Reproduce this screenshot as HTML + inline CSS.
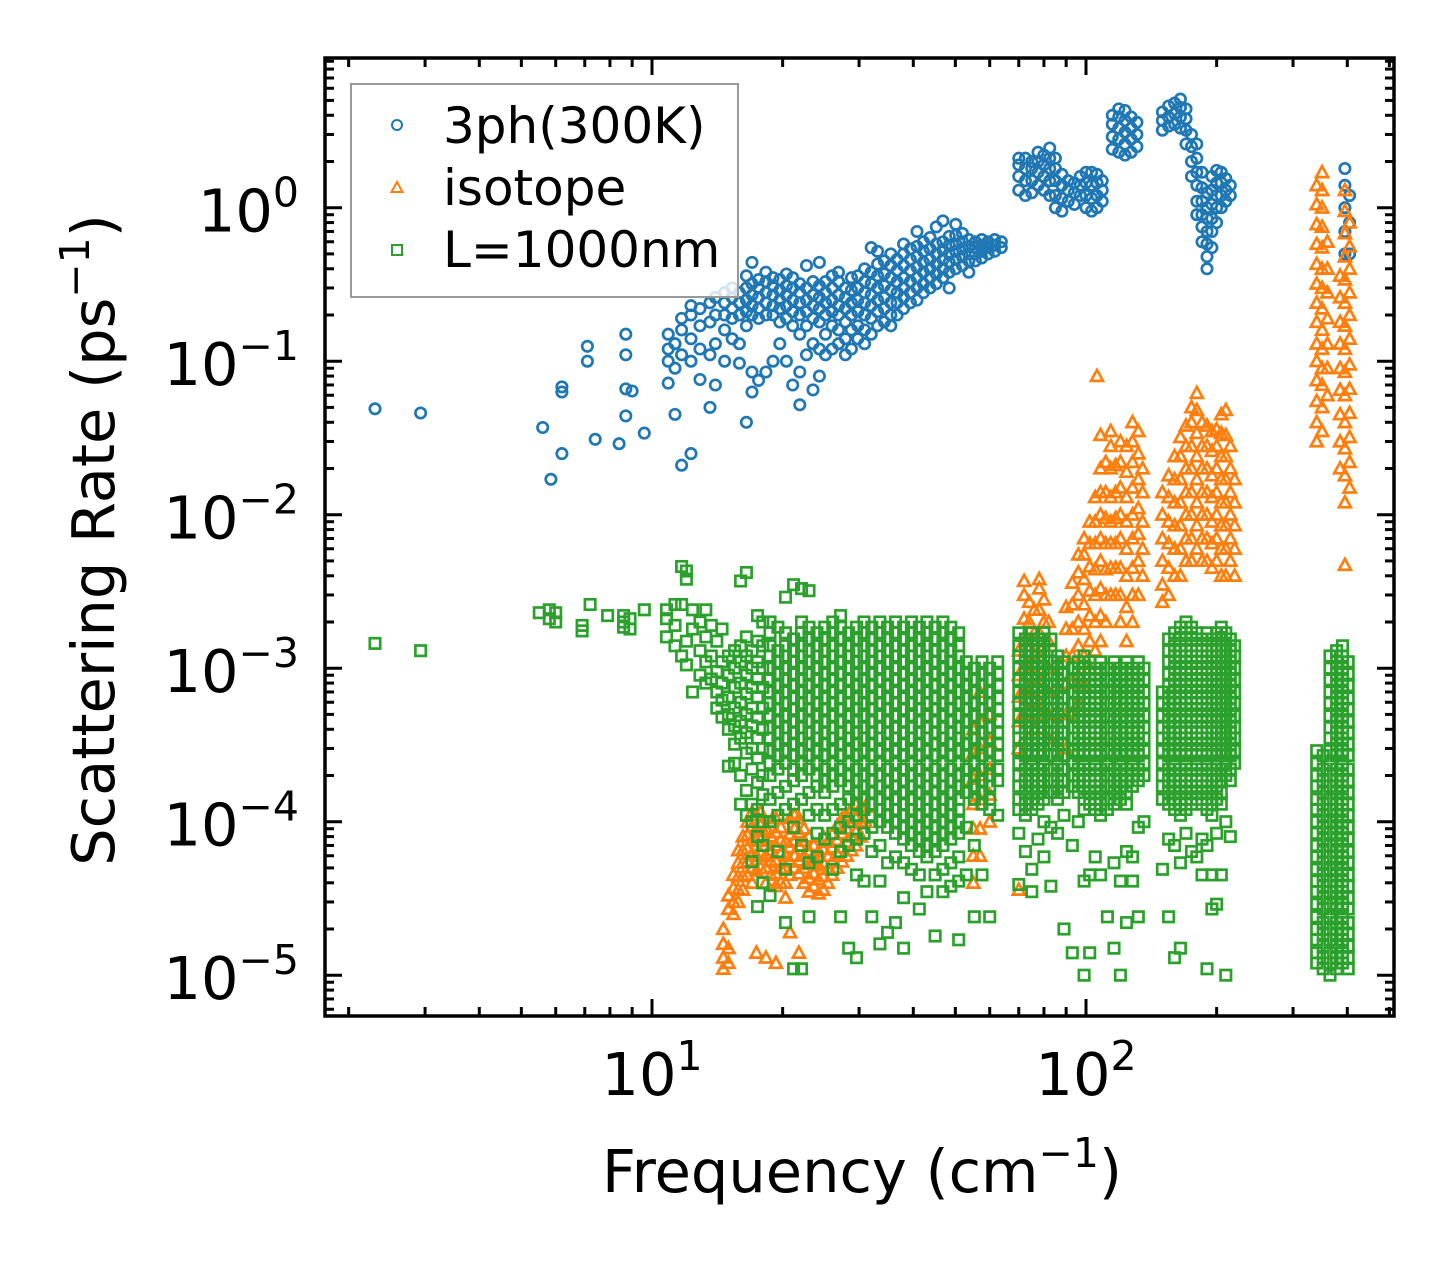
<!DOCTYPE html>
<html>
<head>
<meta charset="utf-8">
<style>
  html,body{margin:0;padding:0;background:#fff;}
  svg{display:block;}
  text{font-family:"DejaVu Sans","Liberation Sans",sans-serif;fill:#000;}
</style>
</head>
<body>
<svg id="chart" width="1455" height="1265" viewBox="0 0 1455 1265" xmlns="http://www.w3.org/2000/svg">
  <rect x="0" y="0" width="1455" height="1265" fill="#fff"/>
  <g id="marks"></g>
  <g id="axes"></g>
  <text x="862" y="1192" font-size="59" text-anchor="middle">Frequency (cm<tspan font-size="41" dy="-25">−1</tspan><tspan dy="25">)</tspan></text>
  <text transform="translate(114,540) rotate(-90)" font-size="59" text-anchor="middle">Scattering Rate (ps<tspan font-size="41" dy="-25">−1</tspan><tspan dy="25">)</tspan></text>
  <g id="legend">
    <rect x="351" y="84" width="387" height="213" fill="#fff" fill-opacity="0.8" stroke="#999" stroke-width="2"/>
    <circle cx="397" cy="125" r="5" fill="none" stroke="#1f77b4" stroke-width="2"/>
    <text x="443" y="143" font-size="50">3ph(300K)</text>
    <polygon points="397,182 402.5,192 391.5,192" fill="none" stroke="#ff7f0e" stroke-width="2"/>
    <text x="443" y="205" font-size="50">isotope</text>
    <rect x="392" y="245" width="10" height="10" fill="none" stroke="#2ca02c" stroke-width="2"/>
    <text x="443" y="267" font-size="50">L=1000nm</text>
  </g>
</svg>
<script>
// ---------- data (frequency in cm^-1, rates in ps^-1) ----------
const xTickValues = [10, 100];
const xTickLabels = ["1", "2"];
const yTickValues = [1, 0.1, 0.01, 0.001, 0.0001, 0.00001];
const yTickLabels = ["0", "−1", "−2", "−3", "−4", "−5"];

const blueFreq = [2.3,2.93,5.6,5.85,6.2,7.1,7.4,8.4,8.7,9.0,9.6,10.9,11.3,11.7,12.3,12.9,13.6,14.0,14.7,15.3,15.9,16.5,17.0,17.6,18.3,19.0,19.7,20.4,21.1,21.9,22.7,23.5,24.3,25.1,26.0,26.9,27.9,28.8,29.8,30.9,32.0,33.1,34.3,35.5,36.7,38.0,39.4,40.8,42.2,43.7,45.2,46.8,48.4,50.1,51.9,53.7,55.6,57.5,59.5,61.6,63.8,70,72.5,75,77.5,80,82.5,85,88,91,94,97,100,103,106,109,115,119,123,127,131,150,155,160,165,170,175,180,185,190,195,200,205,210,215,395,405];
const blueRates = [
[0.049],[0.046],[0.037],[0.017],[0.025,0.063,0.068],[0.125,0.1],[0.031],[0.029],[0.066,0.15,0.11,0.044],[0.064],[0.034],
[0.072,0.1,0.12,0.15],[0.045,0.09,0.13],[0.021,0.11,0.16,0.19],[0.025,0.1,0.14,0.2,0.23],[0.076,0.12,0.17,0.22],[0.05,0.11,0.18,0.24],
[0.07,0.13,0.2,0.26],[0.1,0.16,0.2,0.24,0.28],[0.14,0.19,0.22,0.26,0.3],[0.097,0.13,0.2,0.24,0.28],[0.04,0.17,0.21,0.25,0.3,0.36],
[0.063,0.085,0.2,0.23,0.27,0.32,0.44],[0.075,0.19,0.22,0.26,0.3,0.34],[0.085,0.2,0.24,0.28,0.33,0.38],[0.1,0.2,0.23,0.27,0.31,0.35],
[0.13,0.18,0.22,0.25,0.29,0.34],[0.1,0.19,0.23,0.27,0.31,0.37],[0.07,0.17,0.21,0.25,0.3,0.35],[0.052,0.085,0.15,0.2,0.24,0.28,0.32],
[0.11,0.17,0.21,0.25,0.3,0.42],[0.065,0.13,0.19,0.23,0.27,0.33],[0.08,0.12,0.18,0.22,0.26,0.31,0.44],[0.11,0.15,0.2,0.24,0.28,0.33],
[0.12,0.17,0.21,0.25,0.3,0.36],[0.13,0.16,0.2,0.23,0.27,0.33,0.38],[0.11,0.14,0.18,0.22,0.26,0.3],[0.12,0.16,0.2,0.24,0.29,0.35],
[0.14,0.17,0.21,0.25,0.3,0.36],[0.13,0.16,0.2,0.24,0.28,0.33,0.4],[0.15,0.19,0.23,0.27,0.32,0.38,0.55],[0.17,0.21,0.25,0.3,0.36,0.43,0.52],
[0.18,0.22,0.26,0.31,0.37,0.45],[0.17,0.2,0.24,0.29,0.35,0.42,0.5],[0.2,0.24,0.28,0.33,0.39,0.46],[0.22,0.26,0.3,0.35,0.42,0.5,0.58],
[0.24,0.28,0.33,0.39,0.46,0.54],[0.25,0.3,0.35,0.41,0.48,0.56,0.7],[0.28,0.32,0.38,0.44,0.52,0.6],[0.3,0.35,0.4,0.46,0.54,0.64],
[0.32,0.37,0.43,0.5,0.58,0.75],[0.35,0.4,0.46,0.53,0.6,0.82],[0.3,0.38,0.44,0.5,0.57,0.65],[0.4,0.46,0.52,0.58,0.66,0.78],
[0.42,0.48,0.54,0.6,0.68],[0.38,0.45,0.5,0.56,0.62],[0.45,0.5,0.55,0.6],[0.47,0.52,0.57,0.62],[0.5,0.55,0.6],[0.52,0.57,0.62],[0.55,0.6],
[1.3,1.6,1.9,2.1],[1.2,1.5,1.8,2.1],[1.25,1.5,1.8,2.0],[1.4,1.7,2.0,2.3],[1.3,1.6,1.9,2.2],[1.2,1.5,1.8,2.1,2.45],[1.0,1.2,1.5,1.8,2.1],
[0.95,1.15,1.4,1.65],[1.1,1.3,1.5],[1.05,1.25,1.45],[1.2,1.4,1.6],[1.0,1.2,1.45,1.7],[0.95,1.15,1.4,1.7],[1.0,1.2,1.45,1.65],[1.1,1.3,1.5],
[2.4,2.9,3.5,4.0],[2.3,2.8,3.3,3.9,4.4],[2.2,2.6,3.1,3.7,4.3],[2.3,2.8,3.3,3.9],[2.5,3.0,3.6],
[3.2,3.7,4.2],[3.4,3.9,4.6],[3.5,4.1,4.8],[3.3,3.9,4.5,5.1],[2.6,3.2,3.8,4.4],
[1.6,2.0,2.5,3.0],[0.9,1.1,1.4,1.7,2.1,2.6],[0.6,0.75,0.9,1.1,1.35,1.7],[0.4,0.48,0.58,0.7,0.85,1.0,1.25],[0.55,0.7,0.85,1.05,1.3,1.6],
[0.8,1.0,1.2,1.45,1.75],[1.0,1.2,1.45,1.7],[1.1,1.3,1.55],[1.2,1.4],
[0.5,0.7,1.0,1.4,1.8],[0.5,0.8,1.2]
];

const orangeFreq = [14.6,15.0,15.4,15.8,16.2,16.6,17.0,17.4,17.8,18.3,18.8,19.3,19.8,20.3,20.8,21.3,21.8,22.4,23.0,23.6,24.2,24.8,25.4,26.0,26.7,27.4,28.1,28.8,29.5,30.3,31,55,57,60,70,72,74,76,78,80,82,90,93,96,99,102,105,106,108,111,114,117,120,124,128,132,135,150,155,160,165,170,175,180,185,190,195,200,205,210,215,220,340,350,360,385,395,405];
const orangeRates = [
[1.1e-5,1.3e-5,1.6e-5,2e-5],[1.2e-5,1.5e-5,2.7e-5,3.3e-5],[2.5e-5,3e-5,3.7e-5,4.5e-5],[3e-5,3.6e-5,4.4e-5,5.4e-5,6.5e-5],
[3.6e-5,4.4e-5,5.4e-5,6.5e-5,8e-5],[4.5e-5,5.5e-5,6.7e-5,8.2e-5,1e-4],[4e-5,5e-5,6.2e-5,7.6e-5,9.3e-5,1.15e-4],[1.4e-5,4.8e-5,6e-5,7.5e-5,9e-5,1.1e-4],
[5e-5,6.2e-5,7.6e-5,9.4e-5,1.15e-4],[1.3e-5,4e-5,5e-5,6e-5,7.5e-5,9e-5],[4.5e-5,5.5e-5,6.5e-5,8e-5,1e-4],[1.2e-5,3.8e-5,4.6e-5,5.6e-5,7e-5,8.5e-5,1.05e-4],
[4e-5,5e-5,6.2e-5,7.6e-5,9.2e-5],[3.2e-5,4e-5,5e-5,6e-5,7.4e-5],[1.9e-5,4.5e-5,5.5e-5,6.8e-5,8.3e-5,1.05e-4],[5e-5,6e-5,7.5e-5,9e-5,1.1e-4],
[1.4e-5,4.6e-5,5.6e-5,7e-5,8.5e-5,1.05e-4],[4e-5,5e-5,6e-5,7.5e-5,9e-5],[3.5e-5,4.3e-5,5.3e-5,6.5e-5,8e-5],[3.8e-5,4.6e-5,5.6e-5,7e-5],
[3.4e-5,4.2e-5,5.2e-5,6.4e-5],[3.6e-5,4.4e-5,5.4e-5,6.6e-5,8e-5],[4e-5,4.9e-5,6e-5,7.4e-5],[4.5e-5,5.5e-5,6.8e-5,8.3e-5],
[5e-5,6.2e-5,7.6e-5,9.4e-5],[5.5e-5,6.8e-5,8.4e-5,1.05e-4],[6e-5,7.4e-5,9e-5,1.1e-4],[6.5e-5,8e-5,1e-4,1.2e-4],[7e-5,8.6e-5,1.05e-4,1.3e-4],
[8e-5,1e-4,1.25e-4],[1e-4,1.25e-4],
[4e-5,6e-5,9e-5,1.3e-4,1.9e-4,2.8e-4,4e-4],[6e-5,9e-5,1.4e-4,2e-4,3e-4,4.5e-4,7e-4],[1e-4,1.5e-4,2.2e-4,3.3e-4,5e-4],
[3.6e-5,3e-4,4.5e-4,6.5e-4,9e-4,1.3e-3],[5e-4,7e-4,1e-3,1.5e-3,2.1e-3,3e-3,3.7e-3],[5e-4,7e-4,1e-3,1.4e-3,2e-3,2.7e-3],[4e-4,6e-4,8.5e-4,1.2e-3,1.7e-3,2.4e-3],
[6e-4,8.5e-4,1.2e-3,1.7e-3,2.4e-3,3.3e-3,3.8e-3],[5e-4,7e-4,1e-3,1.4e-3,2e-3,2.8e-3],[3.5e-4,5e-4,7e-4,1e-3,1.5e-3,2e-3],
[3e-4,5e-4,8e-4,1.2e-3,1.8e-3,2.5e-3],[5e-4,8e-4,1.2e-3,1.8e-3,2.6e-3,3.6e-3],[6e-4,9e-4,1.4e-3,2e-3,3e-3,4.2e-3,5.5e-3],
[8e-4,1.2e-3,1.8e-3,2.6e-3,3.8e-3,5.5e-3,7e-3],[1e-3,1.5e-3,2.2e-3,3.2e-3,4.6e-3,6.5e-3,9e-3],[1.3e-3,2e-3,3e-3,4.4e-3,6.5e-3,9e-3,1.3e-2],
[0.08],[1.5e-3,2.2e-3,3.3e-3,5e-3,7e-3,1e-2,1.4e-2,2e-2,0.033],[2e-3,3e-3,4.4e-3,6.5e-3,9.5e-3,1.4e-2,2.2e-2],
[3e-3,4.5e-3,6.5e-3,9e-3,0.013,0.02,0.028,0.035],[3e-3,4.5e-3,6.5e-3,9.5e-3,0.014,0.021],[2e-3,3e-3,4.5e-3,7e-3,0.01,0.015,0.022,0.03],
[1.5e-3,2.5e-3,4e-3,6e-3,9e-3,0.013,0.019,0.028],[2e-3,3e-3,4.5e-3,7e-3,0.01,0.015,0.022,0.03,0.04],[3e-3,5e-3,7.5e-3,0.011,0.017,0.025,0.035],
[4e-3,6e-3,9e-3,0.014,0.02],
[2.7e-3,3.5e-3,5e-3,7e-3,0.01,0.014],[3e-3,4.5e-3,6.5e-3,9e-3,0.013,0.018],[4e-3,6e-3,8.5e-3,0.012,0.017,0.024],[4e-3,6e-3,8.5e-3,0.012,0.017,0.024,0.032],
[5e-3,7e-3,0.01,0.014,0.02,0.028,0.038],[5e-3,7e-3,0.01,0.014,0.02,0.028,0.04,0.05],[6e-3,8.5e-3,0.012,0.017,0.024,0.034,0.048,0.062],
[5e-3,7e-3,0.01,0.014,0.02,0.028,0.04],[5e-3,7e-3,0.01,0.014,0.02,0.028,0.038],[4.5e-3,6.5e-3,9e-3,0.013,0.018,0.026,0.035],
[5e-3,7e-3,0.01,0.014,0.02,0.028,0.036],[4e-3,6e-3,8.5e-3,0.012,0.017,0.024,0.034,0.045],[4e-3,6e-3,8.5e-3,0.012,0.017,0.024,0.033,0.048],
[5e-3,7e-3,0.01,0.014,0.02,0.028],[4e-3,6e-3,8.5e-3,0.012,0.017],
[0.03,0.04,0.055,0.075,0.1,0.13,0.18,0.24,0.32,0.43,0.58,0.78,1.05,1.4],
[0.035,0.05,0.07,0.09,0.12,0.16,0.22,0.3,0.4,0.55,0.75,1.0,1.3,1.7],
[0.06,0.09,0.13,0.19,0.28,0.4,0.6],
[0.02,0.03,0.045,0.065,0.09,0.13,0.18,0.26,0.36],
[0.0047,0.012,0.018,0.027,0.04,0.06,0.085,0.12,0.17,0.24,0.34,0.48,0.68,0.95,1.3],
[0.015,0.022,0.032,0.046,0.066,0.095,0.14,0.2,0.28,0.4,0.56,0.8]
];

const greenFreq = [2.3,2.93,5.5,5.8,6.0,6.9,7.2,7.9,8.6,8.9,9.6,10.8,11.3,11.7,12.0,12.4,12.9,13.3,13.7,14.1,14.5,15.0,15.5,16.0,16.5,17.0,17.5,18.0,18.7,19.5,20.3,21.2,22.1,23.0,24.0,25.0,26.1,27.2,28.4,29.6,30.8,32.1,33.5,34.9,36.4,38.0,39.6,41.3,43.0,44.9,46.8,48.8,50.9,53.0,55.3,57.6,60.0,62.6,70,72.5,75,77.5,80,83,86,89,93,96,99,102,105,108,112,116,120,124,128,132,136,150,155,160,165,170,175,180,185,190,195,200,205,210,215,220,340,352,365,378,390,402];
const greenRates = [
[1.45e-3],[1.3e-3],[2.3e-3],[2.4e-3,2.1e-3],[2.3e-3,2e-3],[1.9e-3,1.75e-3],[2.6e-3],[2.2e-3],[2e-3,2.2e-3,1.85e-3],[2.1e-3,1.8e-3],[2.4e-3],
[2.4e-3,2.1e-3,1.6e-3],[1.9e-3,1.4e-3,2.6e-3],[4.6e-3,2.6e-3,1.2e-3],[4.3e-3,3.8e-3,1.5e-3,1.05e-3],[1.8e-3,2.4e-3,7e-4],[2e-3,1.3e-3,9e-4],
[2.4e-3,1.6e-3,1.1e-3,8e-4],[1.9e-3,1.2e-3,8.5e-4],[1.5e-3,9.5e-4,7e-4,5.5e-4],[1.8e-3,1.1e-3,8e-4,6.2e-4,4.8e-4],[1.2e-3,9e-4,6.5e-4,5e-4,4e-4,2.3e-4],
[1.3e-3,1e-3,7.5e-4,5.5e-4,4.2e-4,3.2e-4,2.4e-4],[3.7e-3,1.4e-3,1.1e-3,8e-4,6e-4,4.5e-4,3.5e-4,2e-4,1.3e-4],
[4.2e-3,1.6e-3,1.2e-3,9e-4,6.8e-4,5e-4,3.8e-4,2.8e-4,1.6e-4,1.1e-4],[1.3e-3,1e-3,7.5e-4,5.5e-4,4.2e-4,3e-4,2.2e-4,1.3e-4,1e-4,5.5e-5],
[2.2e-3,1.5e-3,1.1e-3,8.5e-4,6.5e-4,4.8e-4,3.5e-4,2.6e-4,1.8e-4,1.2e-4,8e-5,2.8e-5],[2e-3,1.4e-3,1e-3,7.5e-4,5.5e-4,4e-4,3e-4,2e-4,1.5e-4,1e-4,7e-5,4e-5],
[2e-3,1.7e-3,1.4e-3,1.2e-3,1e-3,8.4e-4,7e-4,5.9e-4,4.9e-4,4.1e-4,3.5e-4,2.9e-4,2.4e-4,2e-4,1.4e-4,1e-4,3.3e-5],
[1.85e-3,1.3e-3,1.1e-3,9.2e-4,7.7e-4,6.4e-4,5.4e-4,4.5e-4,3.8e-4,3.2e-4,2.7e-4,2.2e-4,1.55e-4,1.1e-4,6.4e-5],
[2.9e-3,1.7e-3,1.4e-3,1.2e-3,1e-3,8.4e-4,7e-4,5.9e-4,4.9e-4,4.1e-4,3.5e-4,2.9e-4,2.4e-4,1.7e-4,1.2e-4,4.9e-5,2.2e-5],
[3.5e-3,1.55e-3,1.3e-3,1.1e-3,9.2e-4,7.7e-4,6.4e-4,5.4e-4,4.5e-4,3.8e-4,3.2e-4,2.7e-4,2.2e-4,1.85e-4,1.3e-4,9.2e-5,1.1e-5],
[3.3e-3,2e-3,1.7e-3,1.4e-3,1.2e-3,1e-3,8.4e-4,7e-4,5.9e-4,4.9e-4,4.1e-4,3.5e-4,2.9e-4,2.4e-4,2e-4,1.4e-4,7e-5,1.1e-5],
[3.2e-3,1.85e-3,1.55e-3,1.3e-3,1.1e-3,9.2e-4,7.7e-4,6.4e-4,5.4e-4,4.5e-4,3.8e-4,3.2e-4,2.7e-4,2.2e-4,1.55e-4,1.1e-4,5.4e-5,2.4e-5],
[1.7e-3,1.4e-3,1.2e-3,1e-3,8.4e-4,7e-4,5.9e-4,4.9e-4,4.1e-4,3.5e-4,2.9e-4,2.4e-4,2e-4,1.7e-4,1.2e-4,8.4e-5,5.9e-5],
[1.85e-3,1.55e-3,1.3e-3,1.1e-3,9.2e-4,7.7e-4,6.4e-4,5.4e-4,4.5e-4,3.8e-4,3.2e-4,2.7e-4,2.2e-4,1.85e-4,1.55e-4,1.1e-4,7.7e-5],
[2e-3,1.7e-3,1.4e-3,1.2e-3,1e-3,8.4e-4,7e-4,5.9e-4,4.9e-4,4.1e-4,3.5e-4,2.9e-4,2.4e-4,2e-4,1.7e-4,1.2e-4,8.4e-5,4.9e-5],
[2.2e-3,1.85e-3,1.55e-3,1.3e-3,1.1e-3,9.2e-4,7.7e-4,6.4e-4,5.4e-4,4.5e-4,3.8e-4,3.2e-4,2.7e-4,2.2e-4,1.85e-4,1.3e-4,9.2e-5,6.4e-5,2.4e-5],
[1.7e-3,1.4e-3,1.2e-3,1e-3,8.4e-4,7e-4,5.9e-4,4.9e-4,4.1e-4,3.5e-4,2.9e-4,2.4e-4,2e-4,1.7e-4,1.4e-4,1e-4,7e-5,1.5e-5],
[1.85e-3,1.55e-3,1.3e-3,1.1e-3,9.2e-4,7.7e-4,6.4e-4,5.4e-4,4.5e-4,3.8e-4,3.2e-4,2.7e-4,2.2e-4,1.85e-4,1.55e-4,1.3e-4,1.1e-4,7.7e-5,4.5e-5,1.3e-5],
[2e-3,1.7e-3,1.4e-3,1.2e-3,1e-3,8.4e-4,7e-4,5.9e-4,4.9e-4,4.1e-4,3.5e-4,2.9e-4,2.4e-4,2e-4,1.7e-4,1.4e-4,1.2e-4,8.4e-5,4.1e-5],
[1.85e-3,1.55e-3,1.3e-3,1.1e-3,9.2e-4,7.7e-4,6.4e-4,5.4e-4,4.5e-4,3.8e-4,3.2e-4,2.7e-4,2.2e-4,1.85e-4,1.55e-4,1.3e-4,1.1e-4,9.2e-5,6.4e-5,2.4e-5],
[2e-3,1.7e-3,1.4e-3,1.2e-3,1e-3,8.4e-4,7e-4,5.9e-4,4.9e-4,4.1e-4,3.5e-4,2.9e-4,2.4e-4,2e-4,1.7e-4,1.4e-4,1.2e-4,1e-4,7e-5,4.1e-5,1.6e-5],
[1.85e-3,1.55e-3,1.3e-3,1.1e-3,9.2e-4,7.7e-4,6.4e-4,5.4e-4,4.5e-4,3.8e-4,3.2e-4,2.7e-4,2.2e-4,1.85e-4,1.55e-4,1.3e-4,1.1e-4,9.2e-5,5.4e-5,1.9e-5],
[2e-3,1.7e-3,1.4e-3,1.2e-3,1e-3,8.4e-4,7e-4,5.9e-4,4.9e-4,4.1e-4,3.5e-4,2.9e-4,2.4e-4,2e-4,1.7e-4,1.4e-4,1.2e-4,1e-4,8.4e-5,5.9e-5,2.2e-5],
[1.85e-3,1.55e-3,1.3e-3,1.1e-3,9.2e-4,7.7e-4,6.4e-4,5.4e-4,4.5e-4,3.8e-4,3.2e-4,2.7e-4,2.2e-4,1.85e-4,1.55e-4,1.3e-4,1.1e-4,9.2e-5,7.7e-5,5.4e-5,3.2e-5,1.5e-5],
[2e-3,1.7e-3,1.4e-3,1.2e-3,1e-3,8.4e-4,7e-4,5.9e-4,4.9e-4,4.1e-4,3.5e-4,2.9e-4,2.4e-4,2e-4,1.7e-4,1.4e-4,1.2e-4,1e-4,8.4e-5,7e-5,4.9e-5],
[1.85e-3,1.55e-3,1.3e-3,1.1e-3,9.2e-4,7.7e-4,6.4e-4,5.4e-4,4.5e-4,3.8e-4,3.2e-4,2.7e-4,2.2e-4,1.85e-4,1.55e-4,1.3e-4,1.1e-4,9.2e-5,7.7e-5,6.4e-5,4.5e-5,2.7e-5],
[2e-3,1.7e-3,1.4e-3,1.2e-3,1e-3,8.4e-4,7e-4,5.9e-4,4.9e-4,4.1e-4,3.5e-4,2.9e-4,2.4e-4,2e-4,1.7e-4,1.4e-4,1.2e-4,1e-4,8.4e-5,7e-5,5.9e-5,3.5e-5],
[1.85e-3,1.55e-3,1.3e-3,1.1e-3,9.2e-4,7.7e-4,6.4e-4,5.4e-4,4.5e-4,3.8e-4,3.2e-4,2.7e-4,2.2e-4,1.85e-4,1.55e-4,1.3e-4,1.1e-4,9.2e-5,7.7e-5,6.4e-5,4.5e-5,1.8e-5],
[2e-3,1.7e-3,1.4e-3,1.2e-3,1e-3,8.4e-4,7e-4,5.9e-4,4.9e-4,4.1e-4,3.5e-4,2.9e-4,2.4e-4,2e-4,1.7e-4,1.4e-4,1.2e-4,1e-4,8.4e-5,7e-5,4.9e-5,3.5e-5],
[1.85e-3,1.55e-3,1.3e-3,1.1e-3,9.2e-4,7.7e-4,6.4e-4,5.4e-4,4.5e-4,3.8e-4,3.2e-4,2.7e-4,2.2e-4,1.85e-4,1.55e-4,1.3e-4,1.1e-4,9.2e-5,7.7e-5,5.4e-5,3.8e-5],
[1.7e-3,1.4e-3,1.2e-3,1e-3,8.4e-4,7e-4,5.9e-4,4.9e-4,4.1e-4,3.5e-4,2.9e-4,2.4e-4,2e-4,1.7e-4,1.4e-4,1.2e-4,1e-4,8.4e-5,5.9e-5,4.1e-5,1.7e-5],
[1.1e-3,9.2e-4,7.7e-4,6.4e-4,5.4e-4,4.5e-4,3.8e-4,3.2e-4,2.7e-4,2.2e-4,1.85e-4,1.55e-4,9.2e-5,4.5e-5],
[1e-3,8.4e-4,7e-4,5.9e-4,4.9e-4,4.1e-4,3.5e-4,2.9e-4,2.4e-4,2e-4,1.7e-4,1.4e-4,7e-5,2.4e-5],
[1.1e-3,9.2e-4,7.7e-4,6.4e-4,5.4e-4,4.5e-4,3.8e-4,3.2e-4,2.7e-4,2.2e-4,1.85e-4,1.55e-4,1.3e-4,4.5e-5],
[1e-3,8.4e-4,7e-4,5.9e-4,4.9e-4,4.1e-4,3.5e-4,2.9e-4,2.4e-4,2e-4,1.7e-4,1.4e-4,1.2e-4,2.4e-5],
[1.1e-3,9.2e-4,7.7e-4,6.4e-4,5.4e-4,4.5e-4,3.8e-4,3.2e-4,2.7e-4,2.2e-4,1.85e-4,1.1e-4],
[1.7e-3,1.4e-3,1.2e-3,1e-3,8.4e-4,7e-4,5.9e-4,4.9e-4,4.1e-4,3.5e-4,2.9e-4,2.4e-4,2e-4,1.7e-4,1.4e-4,1.2e-4,8.4e-5,3.9e-5],
[1.55e-3,1.3e-3,1.1e-3,9.2e-4,7.7e-4,6.4e-4,5.4e-4,4.5e-4,3.8e-4,3.2e-4,2.7e-4,2.2e-4,1.85e-4,1.55e-4,1.3e-4,1.1e-4,6.4e-5],
[1.7e-3,1.4e-3,1.2e-3,1e-3,8.4e-4,7e-4,5.9e-4,4.9e-4,4.1e-4,3.5e-4,2.9e-4,2.4e-4,2e-4,1.7e-4,1.4e-4,1.2e-4,4.9e-5,3.5e-5],
[1.55e-3,1.3e-3,1.1e-3,9.2e-4,7.7e-4,6.4e-4,5.4e-4,4.5e-4,3.8e-4,3.2e-4,2.7e-4,2.2e-4,1.85e-4,1.55e-4,1.3e-4,7.7e-5],
[1.7e-3,1.4e-3,1.2e-3,1e-3,8.4e-4,7e-4,5.9e-4,4.9e-4,4.1e-4,3.5e-4,2.9e-4,2.4e-4,2e-4,1.7e-4,1.4e-4,1e-4,5.9e-5],
[1.55e-3,1.3e-3,1.1e-3,9.2e-4,7.7e-4,6.4e-4,5.4e-4,4.5e-4,3.8e-4,3.2e-4,2.7e-4,2.2e-4,1.85e-4,1.55e-4,9.2e-5,3.8e-5],
[1.2e-3,1e-3,8.4e-4,7e-4,5.9e-4,4.9e-4,4.1e-4,3.5e-4,2.9e-4,2.4e-4,2e-4,1.7e-4,1.4e-4,8.4e-5],
[1.1e-3,9.2e-4,7.7e-4,6.4e-4,5.4e-4,4.5e-4,3.8e-4,3.2e-4,2.7e-4,2.2e-4,1.85e-4,1.55e-4,1.1e-4,2e-5],
[1e-3,8.4e-4,7e-4,5.9e-4,4.9e-4,4.1e-4,3.5e-4,2.9e-4,2.4e-4,2e-4,1.7e-4,7e-5,1.4e-5],
[1.1e-3,9.2e-4,7.7e-4,6.4e-4,5.4e-4,4.5e-4,3.8e-4,3.2e-4,2.7e-4,2.2e-4,1.85e-4,1.55e-4,1e-4],
[1.2e-3,1e-3,8.4e-4,7e-4,5.9e-4,4.9e-4,4.1e-4,3.5e-4,2.9e-4,2.4e-4,2e-4,1.7e-4,1.4e-4,1.2e-4,4.1e-5,1e-5],
[1.1e-3,9.2e-4,7.7e-4,6.4e-4,5.4e-4,4.5e-4,3.8e-4,3.2e-4,2.7e-4,2.2e-4,1.85e-4,1.55e-4,1.3e-4,4.5e-5,1.4e-5],
[1e-3,8.4e-4,7e-4,5.9e-4,4.9e-4,4.1e-4,3.5e-4,2.9e-4,2.4e-4,2e-4,1.7e-4,1.4e-4,1.2e-4,5.9e-5],
[1.1e-3,9.2e-4,7.7e-4,6.4e-4,5.4e-4,4.5e-4,3.8e-4,3.2e-4,2.7e-4,2.2e-4,1.85e-4,1.55e-4,1.3e-4,1.1e-4,4.5e-5],
[1e-3,8.4e-4,7e-4,5.9e-4,4.9e-4,4.1e-4,3.5e-4,2.9e-4,2.4e-4,2e-4,1.7e-4,1.4e-4,1.2e-4,2.4e-5],
[1.1e-3,9.2e-4,7.7e-4,6.4e-4,5.4e-4,4.5e-4,3.8e-4,3.2e-4,2.7e-4,2.2e-4,1.85e-4,1.55e-4,1.3e-4,5.4e-5,1.5e-5],
[1e-3,8.4e-4,7e-4,5.9e-4,4.9e-4,4.1e-4,3.5e-4,2.9e-4,2.4e-4,2e-4,1.7e-4,1.4e-4,4.1e-5,1e-5],
[1.1e-3,9.2e-4,7.7e-4,6.4e-4,5.4e-4,4.5e-4,3.8e-4,3.2e-4,2.7e-4,2.2e-4,1.85e-4,1.55e-4,1.3e-4,6.4e-5,2.2e-5],
[1e-3,8.4e-4,7e-4,5.9e-4,4.9e-4,4.1e-4,3.5e-4,2.9e-4,2.4e-4,2e-4,1.7e-4,5.9e-5,4.1e-5],
[1.1e-3,9.2e-4,7.7e-4,6.4e-4,5.4e-4,4.5e-4,3.8e-4,3.2e-4,2.7e-4,2.2e-4,1.85e-4,9.2e-5,2.4e-5],
[1e-3,8.4e-4,7e-4,5.9e-4,4.9e-4,4.1e-4,3.5e-4,2.9e-4,2.4e-4,2e-4,1e-4],
[7e-4,5.9e-4,4.9e-4,4.1e-4,3.5e-4,2.9e-4,2.4e-4,2e-4,1.7e-4,1.4e-4,4.9e-5],
[1.55e-3,1.3e-3,1.1e-3,9.2e-4,7.7e-4,6.4e-4,5.4e-4,4.5e-4,3.8e-4,3.2e-4,2.7e-4,2.2e-4,1.85e-4,1.55e-4,1.3e-4,7.7e-5,2.4e-5],
[1.7e-3,1.4e-3,1.2e-3,1e-3,8.4e-4,7e-4,5.9e-4,4.9e-4,4.1e-4,3.5e-4,2.9e-4,2.4e-4,2e-4,1.7e-4,1.4e-4,1.2e-4,7e-5,1.3e-5],
[1.85e-3,1.55e-3,1.3e-3,1.1e-3,9.2e-4,7.7e-4,6.4e-4,5.4e-4,4.5e-4,3.8e-4,3.2e-4,2.7e-4,2.2e-4,1.85e-4,1.55e-4,1.3e-4,1.1e-4,5.4e-5,1.5e-5],
[2e-3,1.7e-3,1.4e-3,1.2e-3,1e-3,8.4e-4,7e-4,5.9e-4,4.9e-4,4.1e-4,3.5e-4,2.9e-4,2.4e-4,2e-4,1.7e-4,1.4e-4,1.2e-4,8.4e-5],
[1.85e-3,1.55e-3,1.3e-3,1.1e-3,9.2e-4,7.7e-4,6.4e-4,5.4e-4,4.5e-4,3.8e-4,3.2e-4,2.7e-4,2.2e-4,1.85e-4,1.55e-4,1.3e-4,6.4e-5],
[1.7e-3,1.4e-3,1.2e-3,1e-3,8.4e-4,7e-4,5.9e-4,4.9e-4,4.1e-4,3.5e-4,2.9e-4,2.4e-4,2e-4,1.7e-4,1.4e-4,5.9e-5],
[1.55e-3,1.3e-3,1.1e-3,9.2e-4,7.7e-4,6.4e-4,5.4e-4,4.5e-4,3.8e-4,3.2e-4,2.7e-4,2.2e-4,1.85e-4,1.55e-4,1.3e-4,7.7e-5,4.5e-5],
[1.7e-3,1.4e-3,1.2e-3,1e-3,8.4e-4,7e-4,5.9e-4,4.9e-4,4.1e-4,3.5e-4,2.9e-4,2.4e-4,2e-4,1.7e-4,1.4e-4,1.2e-4,7e-5,1.1e-5],
[1.55e-3,1.3e-3,1.1e-3,9.2e-4,7.7e-4,6.4e-4,5.4e-4,4.5e-4,3.8e-4,3.2e-4,2.7e-4,2.2e-4,1.85e-4,1.55e-4,1.3e-4,1.1e-4,4.5e-5,2.7e-5],
[1.7e-3,1.4e-3,1.2e-3,1e-3,8.4e-4,7e-4,5.9e-4,4.9e-4,4.1e-4,3.5e-4,2.9e-4,2.4e-4,2e-4,1.7e-4,1.4e-4,8.4e-5,2.9e-5],
[1.85e-3,1.55e-3,1.3e-3,1.1e-3,9.2e-4,7.7e-4,6.4e-4,5.4e-4,4.5e-4,3.8e-4,3.2e-4,2.7e-4,2.2e-4,1.85e-4,1.55e-4,1.3e-4,4.5e-5],
[1.7e-3,1.4e-3,1.2e-3,1e-3,8.4e-4,7e-4,5.9e-4,4.9e-4,4.1e-4,3.5e-4,2.9e-4,2.4e-4,2e-4,1e-4,1e-5],
[1.55e-3,1.3e-3,1.1e-3,9.2e-4,7.7e-4,6.4e-4,5.4e-4,4.5e-4,3.8e-4,3.2e-4,2.7e-4,2.2e-4,1.85e-4,8e-5],
[1.4e-3,1.2e-3,1e-3,8.4e-4,7e-4,5.9e-4,4.9e-4,4.1e-4,3.5e-4,2.9e-4,2.4e-4],
[2.9e-4,2.4e-4,2e-4,1.7e-4,1.4e-4,1.2e-4,1e-4,8.4e-5,7e-5,5.9e-5,4.9e-5,4.1e-5,3.5e-5,2.9e-5,2.4e-5,2e-5,1.7e-5,1.4e-5,1.2e-5],
[2.7e-4,2.2e-4,1.85e-4,1.55e-4,1.3e-4,1.1e-4,9.2e-5,7.7e-5,6.4e-5,5.4e-5,4.5e-5,3.8e-5,3.2e-5,2.7e-5,2.2e-5,1.85e-5,1.55e-5,1.3e-5,1.1e-5],
[1.2e-3,1e-3,8.4e-4,7e-4,5.9e-4,4.9e-4,4.1e-4,3.5e-4,2.9e-4,2.4e-4,2e-4,1.7e-4,1.4e-4,1.2e-4,1e-4,8.4e-5,7e-5,5.9e-5,4.9e-5,4.1e-5,3.5e-5,2.9e-5,2.4e-5,2e-5,1.7e-5,1.4e-5,1.2e-5,1e-5],
[1.3e-3,1.1e-3,9.2e-4,7.7e-4,6.4e-4,5.4e-4,4.5e-4,3.8e-4,3.2e-4,2.7e-4,2.2e-4,1.85e-4,1.55e-4,1.3e-4,1.1e-4,9.2e-5,7.7e-5,6.4e-5,5.4e-5,4.5e-5,3.8e-5,3.2e-5,2.7e-5,2.2e-5,1.85e-5,1.55e-5,1.3e-5,1.1e-5],
[1.4e-3,1.2e-3,1e-3,8.4e-4,7e-4,5.9e-4,4.9e-4,4.1e-4,3.5e-4,2.9e-4,2.4e-4,2e-4,1.7e-4,1.4e-4,1.2e-4,1e-4,8.4e-5,7e-5,5.9e-5,4.9e-5,4.1e-5,3.5e-5,2.9e-5,2.4e-5,2e-5,1.7e-5,1.4e-5,1.2e-5],
[1.1e-3,9.2e-4,7.7e-4,6.4e-4,5.4e-4,4.5e-4,3.8e-4,3.2e-4,2.7e-4,2.2e-4,1.85e-4,1.55e-4,1.3e-4,1.1e-4,9.2e-5,7.7e-5,6.4e-5,5.4e-5,4.5e-5,3.8e-5,3.2e-5,2.7e-5,2.2e-5,1.85e-5,1.55e-5,1.3e-5,1.1e-5]
];

// ---------- axis functions ----------
const PLOT_L = 325, PLOT_R = 1394, PLOT_T = 58, PLOT_B = 1016;
const X_REF = 652, X_DEC = 434;
const Y_REF = 207.7, Y_DEC = 153.5;
function xScale(f) { return X_REF + X_DEC * (Math.log10(f) - 1); }
function yScale(r) { return Y_REF - Y_DEC * Math.log10(r); }
const xMin = Math.pow(10, 1 + (PLOT_L - X_REF) / X_DEC);
const xMax = Math.pow(10, 1 + (PLOT_R - X_REF) / X_DEC);
const yMax = Math.pow(10, (Y_REF - PLOT_T) / Y_DEC);
const yMin = Math.pow(10, (Y_REF - PLOT_B) / Y_DEC);

const NS = "http://www.w3.org/2000/svg";
const marksG = document.getElementById("marks");
const axesG = document.getElementById("axes");

function drawSeries(freqs, rates, shape, color, name) {
  const g = document.createElementNS(NS, "g");
  
  
  g.setAttribute("fill", "none");
  g.setAttribute("stroke", color);
  g.setAttribute("stroke-width", "2.7");
  marksG.appendChild(g);
  for (let i = 0; i < freqs.length; i++) {
    const cx = xScale(freqs[i]);
    for (let j = 0; j < rates[i].length; j++) {
      const cy = yScale(rates[i][j]);
      let el;
      if (shape === "circle") {
        el = document.createElementNS(NS, "circle");
        el.setAttribute("cx", cx.toFixed(1));
        el.setAttribute("cy", cy.toFixed(1));
        el.setAttribute("r", "5.2");
      } else if (shape === "square") {
        el = document.createElementNS(NS, "rect");
        el.setAttribute("x", (cx - 5.2).toFixed(1));
        el.setAttribute("y", (cy - 5.2).toFixed(1));
        el.setAttribute("width", "10.4");
        el.setAttribute("height", "10.4");
      } else {
        el = document.createElementNS(NS, "polygon");
        el.setAttribute("points", cx.toFixed(1) + "," + (cy - 6.2).toFixed(1) + " " + (cx + 6).toFixed(1) + "," + (cy + 4.8).toFixed(1) + " " + (cx - 6).toFixed(1) + "," + (cy + 4.8).toFixed(1));
      }
      
      
      g.appendChild(el);
    }
  }
}
drawSeries(blueFreq, blueRates, "circle", "#1f77b4", "3ph-300k");
drawSeries(orangeFreq, orangeRates, "triangle", "#ff7f0e", "isotope");
drawSeries(greenFreq, greenRates, "square", "#2ca02c", "boundary-1000nm");

// ---------- axes ----------
function line(x1, y1, x2, y2, w, name) {
  const l = document.createElementNS(NS, "line");
  l.setAttribute("x1", x1); l.setAttribute("y1", y1);
  l.setAttribute("x2", x2); l.setAttribute("y2", y2);
  l.setAttribute("stroke", "#000");
  l.setAttribute("stroke-width", w);
  
  
  axesG.appendChild(l);
}
for (let d = 0; d <= 2; d++) {
  for (let m = 1; m <= 9; m++) {
    const v = m * Math.pow(10, d);
    if (v < xMin || v > xMax) continue;
    const x = xScale(v);
    const len = m === 1 ? 17 : 9;
    line(x, PLOT_B, x, PLOT_B - len, 3, m === 1 ? "x-major-tick" : "x-minor-tick");
    line(x, PLOT_T, x, PLOT_T + len, 3, m === 1 ? "x-major-tick-top" : "x-minor-tick-top");
  }
}
for (let d = -6; d <= 0; d++) {
  for (let m = 1; m <= 9; m++) {
    const v = m * Math.pow(10, d);
    if (v < yMin || v > yMax) continue;
    const y = yScale(v);
    const len = m === 1 ? 17 : 9;
    line(PLOT_L, y, PLOT_L + len, y, 3, m === 1 ? "y-major-tick" : "y-minor-tick");
    line(PLOT_R, y, PLOT_R - len, y, 3, m === 1 ? "y-major-tick-right" : "y-minor-tick-right");
  }
}
const frame = document.createElementNS(NS, "rect");
frame.setAttribute("x", PLOT_L); frame.setAttribute("y", PLOT_T);
frame.setAttribute("width", PLOT_R - PLOT_L); frame.setAttribute("height", PLOT_B - PLOT_T);
frame.setAttribute("fill", "none"); frame.setAttribute("stroke", "#000"); frame.setAttribute("stroke-width", "3.5");


axesG.appendChild(frame);

function powLabel(x, y, anchor, exp, name) {
  const t = document.createElementNS(NS, "text");
  t.setAttribute("x", x); t.setAttribute("y", y);
  t.setAttribute("font-size", "59");
  t.setAttribute("text-anchor", anchor);
  
  
  const a = document.createElementNS(NS, "tspan");
  a.textContent = "10";
  const b = document.createElementNS(NS, "tspan");
  b.setAttribute("font-size", "41");
  b.setAttribute("dy", "-25");
  b.textContent = exp;
  t.appendChild(a); t.appendChild(b);
  axesG.appendChild(t);
}
for (let i = 0; i < xTickValues.length; i++) {
  powLabel(xScale(xTickValues[i]), 1095, "middle", xTickLabels[i], "x-tick-label");
}
for (let i = 0; i < yTickValues.length; i++) {
  powLabel(299, yScale(yTickValues[i]) + 24, "end", yTickLabels[i], "y-tick-label");
}
document.getElementById("chart").appendChild(document.getElementById("legend"));
</script>
</body>
</html>
